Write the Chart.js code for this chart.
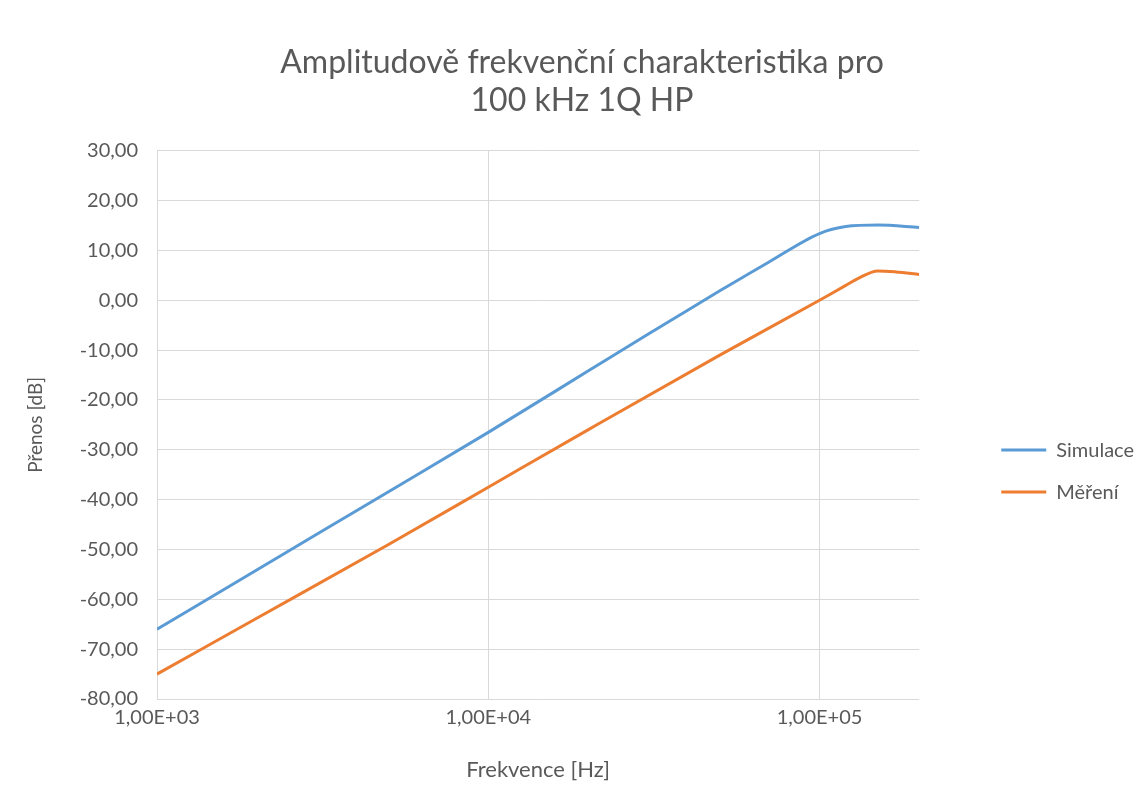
<!DOCTYPE html>
<html>
<head>
<meta charset="utf-8">
<script src="https://cdn.jsdelivr.net/npm/chart.js@4"></script>
<style>
  html, body { margin: 0; padding: 0; background: #fff; }
  #wrap { width: 1147px; height: 805px; }
</style>
</head>
<body>
<div id="wrap"><canvas id="lineChart"></canvas></div>
<script>
// frequencies [Hz] and measured/simulated transfer [dB]
var freqSim = [1000, 2000, 5000, 10000, 20000, 30000, 40000, 50000, 70000, 100000, 120000, 150000, 200000];
var simulace = [-66.0, -54.1, -38.4, -26.5, -14.2, -7.0, -2.0, 1.9, 7.6, 13.4, 14.8, 15.1, 14.6];
var freqMer = [1000, 2000, 5000, 10000, 20000, 50000, 100000, 120000, 130000, 150000, 170000, 200000];
var mereni = [-75.0, -63.8, -49.0, -37.5, -26.0, -11.0, 0.0, 3.0, 4.3, 5.9, 5.7, 5.2];
var xTicks = [1000, 10000, 100000];

function toPoints(xs, ys) {
  return xs.map(function (x, i) { return { x: x, y: ys[i] }; });
}

var textColor = '#595959';
var fontFamily = 'Lato, "Liberation Sans", sans-serif';

var ctx = document.getElementById('lineChart').getContext('2d');
var chart = new Chart(ctx, {
  type: 'line',
  data: {
    datasets: [{
      label: 'Simulace',
      data: toPoints(freqSim, simulace),
      borderColor: '#5B9BD5',
      backgroundColor: '#5B9BD5',
      borderWidth: 3,
      pointRadius: 0,
      cubicInterpolationMode: 'monotone'
    }, {
      label: 'Měření',
      data: toPoints(freqMer, mereni),
      borderColor: '#ED7D31',
      backgroundColor: '#ED7D31',
      borderWidth: 3,
      pointRadius: 0,
      cubicInterpolationMode: 'monotone'
    }]
  },
  options: {
    responsive: true,
    maintainAspectRatio: false,
    animation: false,
    layout: { padding: { left: 20, right: 3, top: 0, bottom: 0 } },
    plugins: {
      title: {
        display: true,
        text: ['Amplitudově frekvenční charakteristika pro', '100 kHz 1Q HP'],
        color: textColor,
        font: { family: fontFamily, size: 32, weight: 'normal', lineHeight: 1.2 },
        padding: { top: 43, bottom: 31 }
      },
      legend: {
        position: 'right',
        title: {
          display: true,
          text: ' ',
          font: { size: 1 },
          padding: { top: 0, bottom: 136 }
        },
        labels: {
          color: textColor,
          font: { family: fontFamily, size: 20 },
          boxWidth: 45,
          boxHeight: 0,
          padding: 22,
          generateLabels: function (c) {
            return c.data.datasets.map(function (ds, i) {
              return {
                text: ds.label,
                fillStyle: ds.borderColor,
                strokeStyle: ds.borderColor,
                lineWidth: 3,
                fontColor: textColor,
                datasetIndex: i
              };
            });
          }
        }
      },
      tooltip: { enabled: false }
    },
    scales: {
      x: {
        type: 'logarithmic',
        min: 1000,
        max: 200000,
        afterBuildTicks: function (s) {
          s.ticks = xTicks.map(function (v) { return { value: v }; });
        },
        afterFit: function (s) { s.height = 106; },
        ticks: {
          color: textColor,
          font: { family: fontFamily, size: 20 },
          maxRotation: 0,
          padding: 7,
          callback: function (v) {
            return Number(v).toExponential(2).replace('.', ',').replace(/e\+(\d)$/, 'E+0$1').replace(/e\+(\d\d)$/, 'E+$1');
          }
        },
        grid: { color: '#d9d9d9', drawTicks: false },
        border: { display: false },
        title: {
          display: true,
          text: 'Frekvence [Hz]',
          color: textColor,
          font: { family: fontFamily, size: 22, lineHeight: 1.2 },
          padding: { top: 4, bottom: 22 }
        }
      },
      y: {
        min: -80,
        max: 30,
        afterFit: function (s) { s.width = 137; },
        ticks: {
          stepSize: 10,
          color: textColor,
          font: { family: fontFamily, size: 20 },
          padding: 19,
          callback: function (v) { return v.toFixed(2).replace('.', ','); }
        },
        grid: { color: '#d9d9d9', drawTicks: false },
        border: { display: true, color: '#d9d9d9' },
        title: {
          display: true,
          text: 'Přenos [dB]',
          color: textColor,
          font: { family: fontFamily, size: 19, lineHeight: 1.2 },
          padding: { top: 4, bottom: 4 }
        }
      },
      gap: {
        position: 'right',
        display: true,
        grid: { display: false },
        border: { display: false },
        ticks: { display: false },
        afterFit: function (s) { s.width = 60; }
      }
    }
  }
});
</script>
</body>
</html>
